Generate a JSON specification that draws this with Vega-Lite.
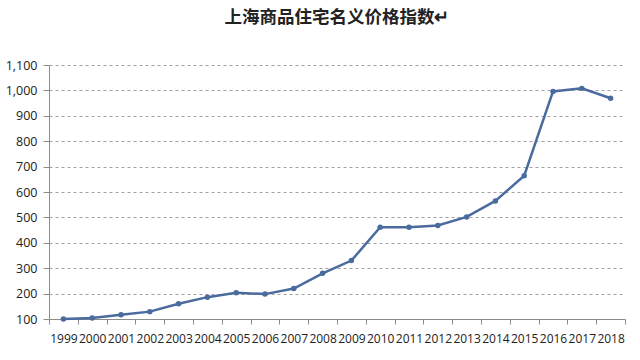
{
  "$schema": "https://vega.github.io/schema/vega-lite/v6.json",
  "autosize": "none",
  "width": 576,
  "height": 254,
  "padding": {"left": 49, "top": 65, "right": 15, "bottom": 41},
  "background": "white",
  "title": {
    "text": "上海商品住宅名义价格指数↵",
    "font": "Noto Sans CJK SC",
    "fontSize": 17.5,
    "fontWeight": "bold",
    "color": "#222222",
    "offset": 33,
    "anchor": "middle"
  },
  "data": {
    "values": [
      {"year": "1999", "index": 100},
      {"year": "2000", "index": 104},
      {"year": "2001", "index": 117},
      {"year": "2002", "index": 129},
      {"year": "2003", "index": 160},
      {"year": "2004", "index": 186},
      {"year": "2005", "index": 203},
      {"year": "2006", "index": 198},
      {"year": "2007", "index": 220},
      {"year": "2008", "index": 280},
      {"year": "2009", "index": 330},
      {"year": "2010", "index": 461},
      {"year": "2011", "index": 461},
      {"year": "2012", "index": 468},
      {"year": "2013", "index": 502},
      {"year": "2014", "index": 565},
      {"year": "2015", "index": 664},
      {"year": "2016", "index": 996},
      {"year": "2017", "index": 1008},
      {"year": "2018", "index": 969}
    ]
  },
  "mark": {
    "type": "line",
    "color": "#4a6b9d",
    "strokeWidth": 2.5,
    "point": {"filled": true, "size": 30, "color": "#4a6b9d"}
  },
  "encoding": {
    "x": {
      "field": "year",
      "type": "ordinal",
      "bandPosition": 0.5,
      "scale": {"type": "band", "paddingInner": 0, "paddingOuter": 0},
      "axis": {
        "title": null,
        "labelAngle": 0,
        "labelOverlap": false,
        "tickBand": "extent",
        "tickSize": 5,
        "tickColor": "#8c8c8c",
        "grid": false,
        "domainColor": "#8c8c8c",
        "labelPadding": 9,
        "labelFont": "Open Sans",
        "labelFontSize": 12,
        "labelColor": "#222222"
      }
    },
    "y": {
      "field": "index",
      "type": "quantitative",
      "scale": {"domain": [100, 1100], "nice": false, "zero": false},
      "axis": {
        "title": null,
        "values": [100, 200, 300, 400, 500, 600, 700, 800, 900, 1000, 1100],
        "format": ",.0f",
        "grid": true,
        "gridColor": "#a0a0a0",
        "gridDash": [3, 3],
        "gridWidth": 1,
        "domainColor": "#8c8c8c",
        "tickColor": "#8c8c8c",
        "tickSize": 6,
        "labelPadding": 6,
        "labelFont": "Open Sans",
        "labelFontSize": 12.5,
        "labelColor": "#222222"
      }
    }
  },
  "config": {"view": {"stroke": null}}
}
